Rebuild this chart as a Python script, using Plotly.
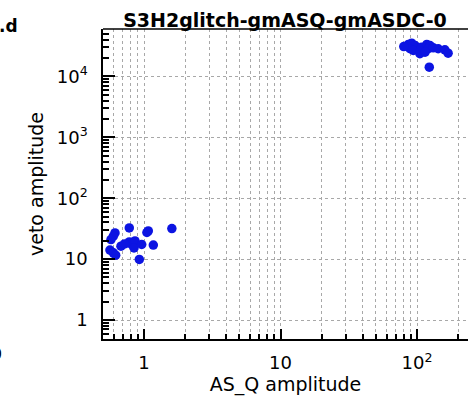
import plotly.graph_objects as go

# Data
low_x = [1.6, 1.075, 1.05, 0.78, 0.613, 0.596, 0.573, 0.563, 0.596, 0.62, 0.678, 0.78, 0.813, 0.859, 0.845, 0.962, 1.17, 0.924, 0.72]
low_y = [31.8, 29.1, 27.4, 32.6, 27.0, 23.8, 21.0, 14.1, 12.7, 11.6, 16.3, 19.2, 17.4, 19.9, 15.3, 17.4, 17.0, 9.9, 17.8]
high_x = [86.4, 91.4, 96.7, 88.9, 94.0, 105, 108, 118, 124.5, 121, 131.6, 143, 160, 169, 114.5, 123, 80]
high_y = [33500, 35200, 32200, 28500, 26700, 23600, 30200, 33500, 32200, 28500, 29500, 28500, 27400, 24100, 25000, 14200, 31000]

x_tickvals = [1, 10, 100]
x_ticktext = ["1", "10", "10<sup>2</sup>"]
y_tickvals = [1, 10, 100, 1000, 10000]
y_ticktext = ["1", "10", "10<sup>2</sup>", "10<sup>3</sup>", "10<sup>4</sup>"]

x_minor = [0.6, 0.7, 0.8, 0.9] + [m * d for d in (1, 10) for m in range(2, 10)] + [200]
y_minor = [m * d for d in (0.1, 1, 10, 100, 1000, 10000) for m in range(2, 10)]
y_minor = [v for v in y_minor if 0.49 < v < 60000]

FONT = "DejaVu Sans"
W, H = 468, 401
L, R, T, B = 103, 0, 29, 62
pw = W - L - R

fig = go.Figure()
fig.add_trace(go.Scatter(
    x=low_x + high_x, y=low_y + high_y, mode="markers",
    marker=dict(color="#0c14e2", size=9.5, line=dict(width=0)),
    showlegend=False, cliponaxis=False,
))

grid = "#a8a8a8"
fig.update_xaxes(
    type="log", range=[-0.3004, 2.3736],
    tickmode="array", tickvals=x_tickvals, ticktext=x_ticktext,
    ticks="inside", ticklen=10, tickwidth=1.5, tickcolor="black",
    showline=True, linecolor="black", linewidth=1.5,
    showgrid=True, gridcolor=grid, griddash="dot", gridwidth=1,
    minor=dict(tickmode="array", tickvals=x_minor, ticks="inside", ticklen=5,
               tickcolor="black", showgrid=True, gridcolor=grid, griddash="dot", gridwidth=1),
    tickfont=dict(family=FONT, size=18, color="black"),
    ticklabelstandoff=7,
    title=dict(text="AS_Q amplitude", font=dict(family=FONT, size=19, color="black"), standoff=3),
    zeroline=False,
)
fig.update_yaxes(
    type="log", range=[-0.311, 4.779],
    tickmode="array", tickvals=y_tickvals, ticktext=y_ticktext,
    ticks="inside", ticklen=12, tickwidth=1.5, tickcolor="black",
    showline=True, linecolor="black", linewidth=1.5,
    showgrid=True, gridcolor=grid, griddash="dot", gridwidth=1,
    minor=dict(tickmode="array", tickvals=y_minor, ticks="inside", ticklen=6,
               tickcolor="black", showgrid=False),
    tickfont=dict(family=FONT, size=18, color="black"),
    ticklabelstandoff=10,
    title=dict(text="veto amplitude", font=dict(family=FONT, size=19, color="black"), standoff=8),
    zeroline=False,
)

fig.add_shape(type="line", xref="paper", yref="paper", x0=0, x1=1, y0=1, y1=1,
              line=dict(color="black", width=1.5))

fig.add_annotation(text="<b>.d</b>", xref="paper", yref="paper",
                   x=(20 - L) / pw, y=1 + (T - 14) / (H - T - B),
                   xanchor="right", yanchor="top", showarrow=False,
                   font=dict(family=FONT, size=17, color="black"))
fig.add_annotation(text="<b>0</b>", xref="paper", yref="paper",
                   x=(-4 - L) / pw, y=(H - B - 354) / (H - T - B),
                   xanchor="center", yanchor="middle", showarrow=False,
                   font=dict(family=FONT, size=17, color="black"))

fig.update_layout(
    width=W, height=H,
    margin=dict(l=L, r=R, t=T, b=B),
    paper_bgcolor="white", plot_bgcolor="white",
    title=dict(text="<b>S3H2glitch-gmASQ-gmASDC-0</b>", x=285 / W, xanchor="center",
               y=1 - 27 / H, yanchor="bottom",
               font=dict(family=FONT, size=19, color="black")),
)

fig.write_html("out.html")
